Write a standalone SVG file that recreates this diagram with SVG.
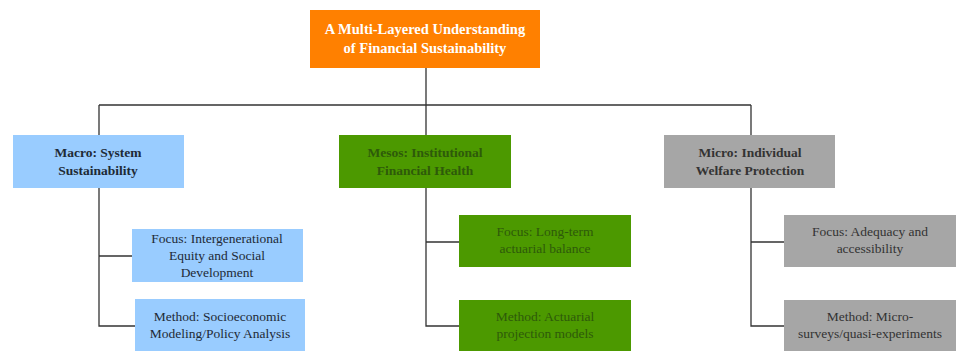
<svg xmlns="http://www.w3.org/2000/svg" width="958" height="351" viewBox="0 0 958 351">
<style>
text{font-family:'Liberation Serif','DejaVu Serif',serif;font-size:13.5px;text-anchor:middle}
.b{font-weight:bold}
.title{font-size:14.5px}
.w{fill:#ffffff}
.dk{fill:#1e2a36}
.dg{fill:#2e5a0a}
.gy{fill:#333333}
.blue{fill:#99ccff}
.green{fill:#4c9900}
.gray{fill:#a6a6a6}
.conn{stroke:#333333;stroke-width:1.3;fill:none}
</style>
<rect width="958" height="351" fill="#ffffff"/>
<g id="connectors">
<path class="conn" d="M426 68V105M99 105H751M99 105V135M426 105V135M751 105V135"/>
<path class="conn" d="M99 188V326H135M99 256H132"/>
<path class="conn" d="M426 188V326H459M426 242H459"/>
<path class="conn" d="M751 188V326H784M751 242H784"/>
</g>
<g id="root">
<rect x="310" y="10" width="230" height="58" fill="#ff8000"/>
<text class="b w title" x="425" y="34">A Multi-Layered Understanding</text>
<text class="b w title" x="425" y="53">of Financial Sustainability</text>
</g>
<g id="macro">
<rect class="blue" x="13" y="135" width="171" height="53"/>
<text class="b dk" x="98" y="157">Macro: System</text>
<text class="b dk" x="98" y="175">Sustainability</text>
</g>
<g id="macro-focus">
<rect class="blue" x="132" y="229" width="171" height="53"/>
<text class="dk" x="217" y="243">Focus: Intergenerational</text>
<text class="dk" x="217" y="260">Equity and Social</text>
<text class="dk" x="217" y="277">Development</text>
</g>
<g id="macro-method">
<rect class="blue" x="135" y="299" width="170" height="53"/>
<text class="dk" x="220" y="321">Method: Socioeconomic</text>
<text class="dk" x="220" y="338">Modeling/Policy Analysis</text>
</g>
<g id="mesos">
<rect class="green" x="339" y="135" width="172" height="53"/>
<text class="b dg" x="425" y="157">Mesos: Institutional</text>
<text class="b dg" x="425" y="175">Financial Health</text>
</g>
<g id="mesos-focus">
<rect class="green" x="459" y="215" width="172" height="52"/>
<text class="dg" x="545" y="236">Focus: Long-term</text>
<text class="dg" x="545" y="253">actuarial balance</text>
</g>
<g id="mesos-method">
<rect class="green" x="459" y="300" width="172" height="52"/>
<text class="dg" x="545" y="321">Method: Actuarial</text>
<text class="dg" x="545" y="338">projection models</text>
</g>
<g id="micro">
<rect class="gray" x="664" y="135" width="171" height="53"/>
<text class="b gy" x="750" y="157">Micro: Individual</text>
<text class="b gy" x="750" y="175">Welfare Protection</text>
</g>
<g id="micro-focus">
<rect class="gray" x="784" y="215" width="172" height="52"/>
<text class="gy" x="870" y="236">Focus: Adequacy and</text>
<text class="gy" x="870" y="253">accessibility</text>
</g>
<g id="micro-method">
<rect class="gray" x="784" y="300" width="172" height="52"/>
<text class="gy" x="870" y="321">Method: Micro-</text>
<text class="gy" x="870" y="338">surveys/quasi-experiments</text>
</g>
</svg>
